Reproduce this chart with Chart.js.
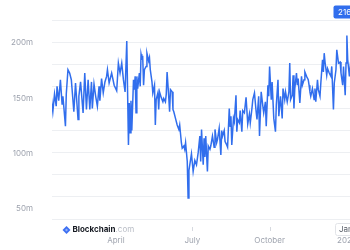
<!DOCTYPE html>
<html lang="en">
<head>
    <meta charset="UTF-8">
    <title>Blockchain.com chart</title>
    <script src="https://cdn.jsdelivr.net/npm/chart.js@4.4.2/dist/chart.umd.min.js"></script>
    <style>
        html, body {
            margin: 0;
            padding: 0;
            background: #ffffff;
            overflow: hidden;
        }
        .wrap {
            width: 362px;
            height: 250px;
        }
        #chart {
            display: block;
            width: 362px;
            height: 250px;
        }
    </style>
</head>
<body>
    <div class="wrap">
        <canvas id="chart" width="362" height="250"></canvas>
    </div>

    <script>
        // day of year (0 = 1 Jan 2024) and value in millions
        const days = [
            14, 16, 18, 20, 21, 23, 25, 27, 28, 31, 32, 34, 36, 38, 41, 43, 46, 47, 49, 52,
            54, 56, 58, 60, 62, 63, 65, 67, 69, 71, 72, 74, 76, 78, 80, 81, 83, 86, 89, 92,
            94, 96, 98, 100, 102, 104, 106, 107, 108, 109, 110, 112, 113, 114, 115, 116, 117, 119, 120, 121,
            122, 123, 124, 125, 127, 128, 130, 131, 132, 134, 135, 137, 138, 139, 141, 142, 143, 145, 147, 148,
            150, 151, 152, 154, 155, 156, 158, 159, 160, 162, 164, 166, 167, 169, 170, 172, 173, 174, 176, 177,
            178, 179, 181, 183, 185, 187, 189, 191, 192, 193, 195, 196, 197, 198, 200, 201, 203, 204, 206, 208,
            209, 211, 212, 214, 216, 217, 218, 220, 221, 223, 224, 226, 227, 228, 229, 231, 232, 234, 235, 236,
            238, 239, 241, 242, 244, 246, 248, 250, 251, 253, 254, 256, 258, 259, 261, 262, 264, 266, 267, 269,
            270, 272, 273, 274, 276, 277, 279, 281, 282, 284, 285, 287, 289, 290, 292, 293, 295, 297, 298, 299,
            301, 302, 303, 304, 306, 307, 308, 310, 312, 313, 315, 316, 318, 320, 321, 322, 323, 325, 327, 328,
            329, 331, 332, 334, 335, 337, 338, 339, 340, 342, 343, 345, 347, 348, 350, 351, 353, 354, 356, 358,
            359, 361, 362, 364, 365, 366, 367, 369, 370, 371, 372
        ];
        const values = [
            151, 137, 153, 142, 160, 147, 166, 144, 151, 124, 153, 175, 172, 166, 137, 163, 130, 151, 164, 136,
            172, 139, 166, 139, 164, 140, 162, 151, 142, 160, 147, 167, 154, 164, 169, 175, 163, 172, 161, 156,
            181, 172, 181, 166, 155, 201, 107, 145, 118, 147, 120, 166, 157, 169, 136, 169, 158, 172, 160, 189,
            185, 186, 161, 175, 178, 190, 183, 186, 175, 164, 154, 161, 125, 148, 154, 139, 155, 150, 146, 149,
            146, 153, 173, 150, 137, 157, 155, 139, 137, 131, 125, 121, 125, 109, 104, 106, 103, 109, 92, 59,
            84, 89, 99, 83, 93, 89, 100, 115, 92, 121, 89, 113, 96, 115, 83, 106, 103, 106, 115, 105,
            121, 109, 112, 122, 98, 120, 115, 120, 110, 107, 105, 140, 124, 133, 107, 131, 128, 152, 119, 130,
            127, 138, 119, 138, 136, 150, 126, 135, 127, 140, 148, 154, 137, 130, 151, 115, 155, 142, 136, 146,
            124, 161, 151, 178, 148, 164, 131, 119, 143, 166, 133, 151, 131, 158, 148, 155, 146, 155, 181, 148,
            152, 170, 140, 158, 172, 161, 167, 145, 169, 161, 166, 173, 169, 166, 161, 155, 151, 158, 148, 158,
            146, 166, 157, 151, 163, 184, 173, 190, 182, 170, 176, 172, 169, 178, 139, 163, 175, 193, 181, 182,
            172, 161, 178, 152, 181, 206, 184, 169, 178, 175, 186
        ];

        // axis ticks
        const xTickDays = [91, 182, 274, 366];
        const xTickLabels = ['April', 'July', 'October', '2025'];
        const yLabelValues = [50, 100, 150, 200];
        const yGridValues = [40, 60, 80, 100, 120, 140, 160, 180, 200, 220];

        // hover read-outs shown in the reference
        const hoverValue = '216.52m';
        const hoverDate = 'Jan 06, 2025';

        const blue = 'rgb(49, 110, 237)';
        const grey = '#9ea3ae';
        const fontFamily = "Inter, 'Noto Sans', sans-serif";

        const extras = {
            id: 'extras',
            afterDraw(chart) {
                const { ctx, chartArea, scales: { x } } = chart;
                ctx.save();

                // short tick marks below the plot
                ctx.strokeStyle = '#d6d9df';
                ctx.lineWidth = 1;
                x.ticks.forEach(t => {
                    const px = Math.round(x.getPixelForValue(t.value)) + 0.5;
                    ctx.beginPath();
                    ctx.moveTo(px, chartArea.bottom + 8);
                    ctx.lineTo(px, chartArea.bottom + 12);
                    ctx.stroke();
                });

                // watermark
                const wx = chartArea.left + 11;
                const wy = chartArea.bottom + 11;
                ctx.fillStyle = '#ffffff';
                ctx.fillRect(wx - 2, wy - 6, 76, 12);
                ctx.fillStyle = '#3d6ff2';
                ctx.beginPath();
                ctx.moveTo(wx + 3.5, wy - 4);
                ctx.lineTo(wx + 7.5, wy);
                ctx.lineTo(wx + 3.5, wy + 4);
                ctx.lineTo(wx - 0.5, wy);
                ctx.closePath();
                ctx.fill();
                ctx.fillStyle = '#8fb0fb';
                ctx.beginPath();
                ctx.moveTo(wx + 3.5, wy - 1.5);
                ctx.lineTo(wx + 5, wy);
                ctx.lineTo(wx + 3.5, wy + 1.5);
                ctx.lineTo(wx + 2, wy);
                ctx.closePath();
                ctx.fill();
                ctx.textBaseline = 'middle';
                ctx.textAlign = 'left';
                ctx.font = 'bold 8px ' + fontFamily;
                ctx.fillStyle = '#161a22';
                ctx.fillText('Blockchain', wx + 9.5, wy);
                const bw = ctx.measureText('Blockchain').width;
                ctx.font = '8px ' + fontFamily;
                ctx.fillStyle = '#b8bcc5';
                ctx.fillText('.com', wx + 9.5 + bw, wy);

                // value read-out at top right
                ctx.fillStyle = blue;
                ctx.beginPath();
                ctx.roundRect(333.5, 5.5, 40, 13, 2);
                ctx.fill();
                ctx.fillStyle = '#ffffff';
                ctx.font = '8px ' + fontFamily;
                ctx.fillText(hoverValue, 338, 12.2);

                // date read-out at bottom right
                ctx.fillStyle = '#ffffff';
                ctx.strokeStyle = '#e2e4e8';
                ctx.beginPath();
                ctx.roundRect(335.5, 223.5, 60, 12, 2);
                ctx.fill();
                ctx.stroke();
                ctx.fillStyle = '#5c616b';
                ctx.fillText(hoverDate, 339, 229.8);

                ctx.restore();
            }
        };

        new Chart(document.getElementById('chart'), {
            type: 'line',
            data: {
                datasets: [{
                    data: days.map((d, i) => ({ x: d, y: values[i] })),
                    borderColor: blue,
                    borderWidth: 1.5,
                    pointRadius: 0,
                    tension: 0,
                    fill: false
                }]
            },
            options: {
                responsive: false,
                animation: false,
                layout: { padding: { top: 20, right: 0, bottom: 0, left: 0 } },
                plugins: {
                    legend: { display: false },
                    tooltip: { enabled: false }
                },
                scales: {
                    x: {
                        type: 'linear',
                        min: 15,
                        max: 384,
                        border: { display: false },
                        grid: { display: false, drawTicks: false },
                        afterBuildTicks: axis => {
                            axis.ticks = xTickDays.map(v => ({ value: v }));
                        },
                        afterFit: axis => {
                            axis.height = 31;
                            axis.paddingLeft = 0;
                            axis.paddingRight = 0;
                        },
                        ticks: {
                            autoSkip: false,
                            maxRotation: 0,
                            padding: 17,
                            color: grey,
                            font: { family: fontFamily, size: 8 },
                            callback: (v, i) => xTickLabels[i]
                        }
                    },
                    y: {
                        min: 40,
                        max: 220,
                        border: { display: false },
                        grid: {
                            drawTicks: false,
                            color: c => yGridValues.includes(c.tick.value) ? '#edeff2' : 'rgba(0,0,0,0)'
                        },
                        afterBuildTicks: axis => {
                            const all = [...new Set([...yGridValues, ...yLabelValues])].sort((a, b) => a - b);
                            axis.ticks = all.map(v => ({ value: v }));
                        },
                        afterFit: axis => {
                            axis.width = 52;
                            axis.paddingTop = 0;
                            axis.paddingBottom = 0;
                        },
                        ticks: {
                            autoSkip: false,
                            padding: 19,
                            labelOffset: 0.8,
                            color: grey,
                            font: { family: fontFamily, size: 8 },
                            callback: v => yLabelValues.includes(v) ? v + 'm' : ''
                        }
                    }
                }
            },
            plugins: [extras]
        });
    </script>
</body>
</html>
